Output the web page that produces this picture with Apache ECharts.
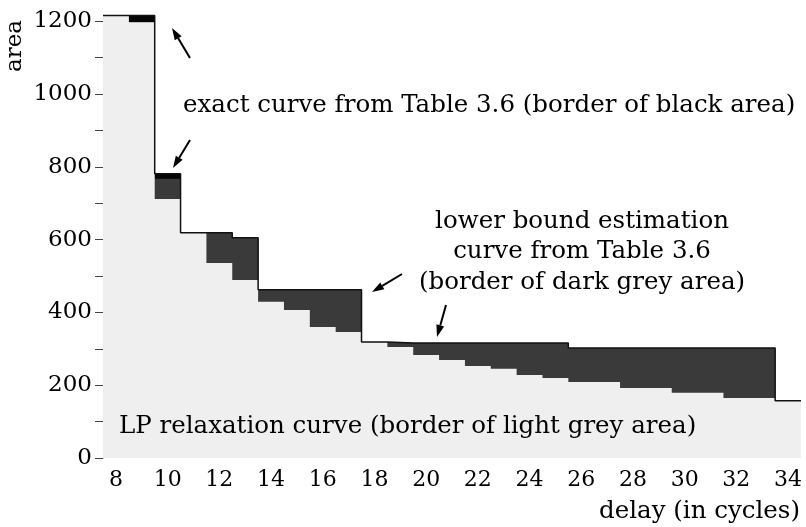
<!DOCTYPE html>
<html>
<head>
<meta charset="utf-8">
<script src="https://cdn.jsdelivr.net/npm/echarts@6/dist/echarts.min.js"></script>
<style>
    html, body { margin: 0; padding: 0; background: #fff; }
    #area_delay { width: 806px; height: 527px; }
</style>
</head>
<body>
<div id="area_delay"></div>
<script>
// delay (in cycles) vs area
var delays = [8, 9, 10, 11, 12, 13, 14, 15, 16, 17, 18, 19, 20, 21, 22, 23, 24, 25, 26, 27, 28, 29, 30, 31, 32, 33, 34];
var exactArea = [1216, 1216, 781, 619, 619, 605, 462, 462, 462, 462, 319, 316, 316, 316, 316, 316, 316, 316, 302, 302, 302, 302, 302, 302, 302, 302, 157];
var lowerBound = [1216, 1197, 767, 619, 619, 605, 462, 462, 462, 462, 319, 316, 316, 316, 316, 316, 316, 316, 302, 302, 302, 302, 302, 302, 302, 302, 157];
var lpRelax = [1216, 1197, 712, 619, 536, 489, 429, 407, 360, 346, 319, 305, 283, 269, 253, 245, 228, 220, 209, 209, 192, 192, 179, 179, 165, 165, 157];
var yLabelValues = [0, 200, 400, 600, 800, 1000, 1200];
var yTickValues = [0, 100, 200, 300, 400, 500, 600, 700, 800, 900, 1000, 1100, 1200];

var FONT = 'DejaVu Serif';

// each delay is a flat step one cycle wide, centred on the delay
function steps(values) {
    var pts = [];
    for (var i = 0; i < delays.length; i++) {
        pts.push([delays[i] - 0.5, values[i]]);
        pts.push([delays[i] + 0.5, values[i]]);
    }
    return pts;
}

function arrow(x1, y1, x2, y2) {
    var dx = x2 - x1, dy = y2 - y1;
    var len = Math.sqrt(dx * dx + dy * dy);
    var ux = dx / len, uy = dy / len;
    var hl = 12, hw = 4;
    var bx = x2 - ux * hl, by = y2 - uy * hl;
    return [
        {type: 'line', z: 100, shape: {x1: x1, y1: y1, x2: bx, y2: by}, style: {stroke: '#000', lineWidth: 2}},
        {type: 'polygon', z: 100, shape: {points: [[x2, y2], [bx - uy * hw, by + ux * hw], [bx + uy * hw, by - ux * hw]]}, style: {fill: '#000'}}
    ];
}

function label(text, x, y, align) {
    return {
        type: 'text', x: x, y: y, z: 100,
        style: {text: text, fill: '#000', font: '24.5px "' + FONT + '"', align: align || 'left', verticalAlign: 'middle'}
    };
}

var notes = [
    label('exact curve from Table 3.6 (border of black area)', 183, 106),
    label('lower bound estimation', 582, 222, 'center'),
    label('curve from Table 3.6', 582, 252, 'center'),
    label('(border of dark grey area)', 582, 283, 'center'),
    label('LP relaxation curve (border of light grey area)', 119, 427),
    label('delay (in cycles)', 800, 512, 'right'),
    {
        type: 'text', x: 15, y: 46, z: 100, rotation: Math.PI / 2,
        style: {text: 'area', fill: '#000', font: '23px "' + FONT + '"', align: 'center', verticalAlign: 'middle'}
    }
].concat(arrow(190, 58, 172, 28), arrow(190, 140, 173, 168), arrow(402, 274, 372, 292), arrow(446, 305, 437, 337));

function areaSeries(name, values, color) {
    return {
        name: name,
        type: 'line',
        xAxisIndex: 1,
        symbol: 'none',
        lineStyle: {width: 0},
        areaStyle: {color: color, opacity: 1},
        data: steps(values)
    };
}

var chart = echarts.init(document.getElementById('area_delay'));
var option = {
    animation: false,
    grid: {left: 103, right: 5, top: 14, bottom: 69},
    xAxis: [{
        type: 'category',
        data: delays,
        boundaryGap: true,
        axisLine: {show: false},
        axisTick: {show: false},
        axisLabel: {interval: 1, margin: 11, color: '#000', fontFamily: FONT, fontSize: 22}
    }, {
        type: 'value',
        min: 7.5,
        max: 34.5,
        show: false
    }],
    yAxis: {
        type: 'value',
        min: 0,
        max: 1220,
        splitLine: {show: false},
        axisLine: {show: true, lineStyle: {color: '#777', type: 'dashed', width: 1}},
        axisTick: {show: true, length: 8, customValues: yTickValues, lineStyle: {color: '#444'}},
        axisLabel: {
            customValues: yLabelValues, margin: 11, color: '#000', fontFamily: FONT, fontSize: 23,
            formatter: function (v) { return String(v); }
        }
    },
    series: [
        areaSeries('exact', exactArea, '#050505'),
        areaSeries('lower bound', lowerBound, '#3a3a3a'),
        areaSeries('LP relaxation', lpRelax, '#efefef'),
        {
            name: 'exact curve',
            type: 'line',
            xAxisIndex: 1,
            symbol: 'none',
            z: 5,
            lineStyle: {color: '#111', width: 1.5},
            data: steps(exactArea)
        }
    ],
    graphic: notes
};
chart.setOption(option);
</script>
</body>
</html>
